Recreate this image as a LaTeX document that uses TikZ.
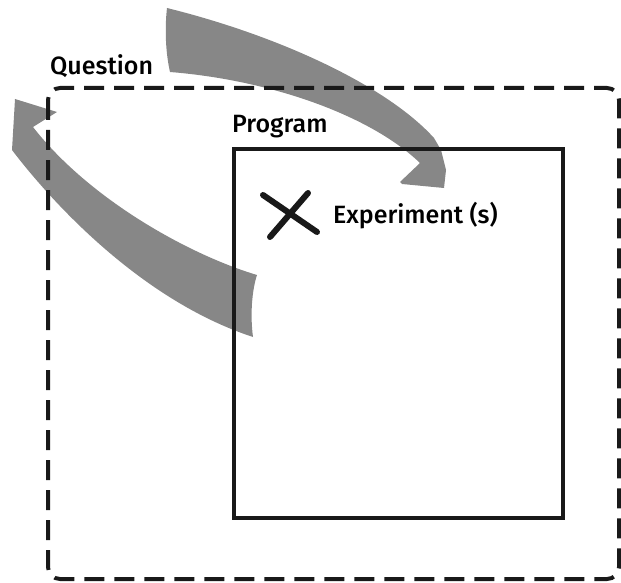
\documentclass[tikz,border=0pt]{standalone}
\usepackage{fontspec}
\setmainfont{Fira Sans Medium}
\begin{document}
\begin{tikzpicture}[x=1pt,y=-1pt,
  flow/.style={fill=black!47},
  frame/.style={draw=black!90,line width=4pt},
  scopebox/.style={draw=black!90,line width=4pt,dash pattern=on 20pt off 10pt,rounded corners=12pt},
  lbl/.style={anchor=base west,inner sep=0pt,font=\fontsize{25}{30}\selectfont},
  cross/.style={line width=6pt,line cap=round,black!90}]
\useasboundingbox (0,0) rectangle (621,583);

% curved arrow from the question down into the program
\fill[flow] (167,8) .. controls (280,36) and (387,86) .. (434,138)
  -- (441,150) -- (446,170) -- (444,188) -- (402,184) -- (400,182) -- (420,163)
  .. controls (370,115) and (270,80) .. (170,72)
  .. controls (165,50) and (165,25) .. cycle;

% curved arrow from the program back up to the question
\fill[flow] (257,275) .. controls (190,255) and (90,200) .. (33,127)
  -- (57,112) -- (15,99) -- (12,150)
  .. controls (50,200) and (140,300) .. (253,337)
  .. controls (250,315) and (252,290) .. cycle;

% outer question scope and inner program box
\draw[scopebox] (48,88) rectangle (619,579);
\node[frame,inner sep=0pt,minimum width=329pt,minimum height=369pt,anchor=north west] (program) at (232,147) {};

% labels
\node[lbl] (question) at (50,75) {Question};
\node[lbl] (proglabel) at (232,133) {Program};
\node[lbl] (experiment) at (333,223) {Experiment (s)};

% experiment marker
\draw[cross] (263,195) -- (317,232);
\draw[cross] (308,193) -- (270,237);
\end{tikzpicture}
\end{document}
